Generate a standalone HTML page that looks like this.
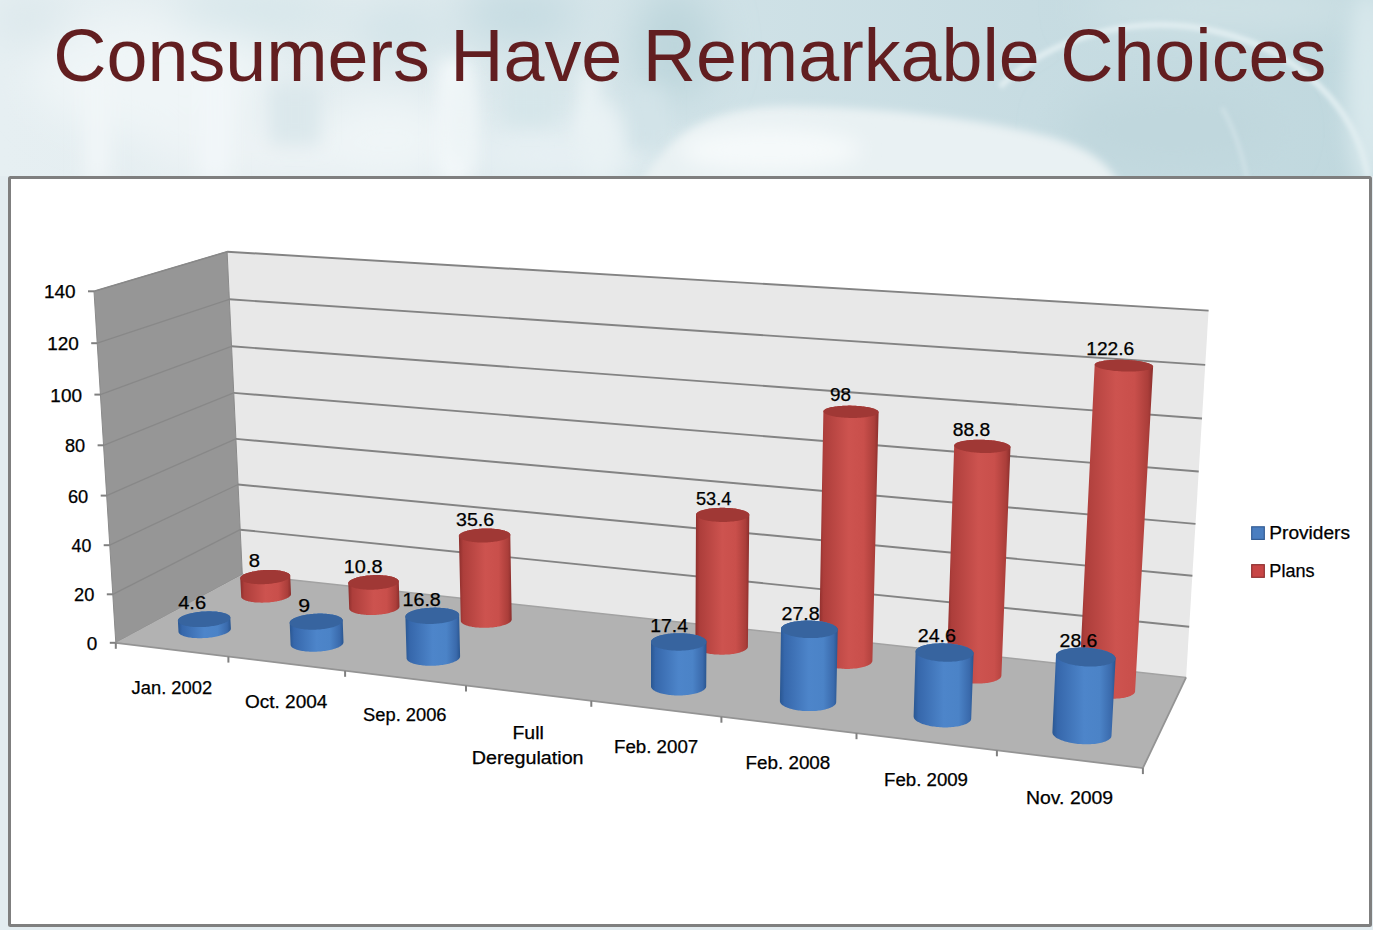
<!DOCTYPE html>
<html><head><meta charset="utf-8"><style>
html,body{margin:0;padding:0;width:1373px;height:930px;overflow:hidden;}
body{position:relative;font-family:"Liberation Sans",sans-serif;
background:#e6eff2;
}
svg{position:absolute;left:0;top:0;}
text{font-family:"Liberation Sans",sans-serif;}
</style></head><body>
<svg width="1373" height="930" viewBox="0 0 1373 930">
<defs><linearGradient id="g1" gradientUnits="userSpaceOnUse" x1="240.3" y1="0" x2="291.0" y2="0"><stop offset="0" stop-color="#8c2e2c"/><stop offset="0.08" stop-color="#ad3e3b"/><stop offset="0.5" stop-color="#cd534f"/><stop offset="0.75" stop-color="#c94f4b"/><stop offset="0.93" stop-color="#ab3e3a"/><stop offset="1" stop-color="#8a2e2c"/></linearGradient><linearGradient id="g2" gradientUnits="userSpaceOnUse" x1="348.3" y1="0" x2="399.5" y2="0"><stop offset="0" stop-color="#8c2e2c"/><stop offset="0.08" stop-color="#ad3e3b"/><stop offset="0.5" stop-color="#cd534f"/><stop offset="0.75" stop-color="#c94f4b"/><stop offset="0.93" stop-color="#ab3e3a"/><stop offset="1" stop-color="#8a2e2c"/></linearGradient><linearGradient id="g3" gradientUnits="userSpaceOnUse" x1="458.9" y1="0" x2="511.7" y2="0"><stop offset="0" stop-color="#8c2e2c"/><stop offset="0.08" stop-color="#ad3e3b"/><stop offset="0.5" stop-color="#cd534f"/><stop offset="0.75" stop-color="#c94f4b"/><stop offset="0.93" stop-color="#ab3e3a"/><stop offset="1" stop-color="#8a2e2c"/></linearGradient><linearGradient id="g4" gradientUnits="userSpaceOnUse" x1="695.4" y1="0" x2="749.3" y2="0"><stop offset="0" stop-color="#8c2e2c"/><stop offset="0.08" stop-color="#ad3e3b"/><stop offset="0.5" stop-color="#cd534f"/><stop offset="0.75" stop-color="#c94f4b"/><stop offset="0.93" stop-color="#ab3e3a"/><stop offset="1" stop-color="#8a2e2c"/></linearGradient><linearGradient id="g5" gradientUnits="userSpaceOnUse" x1="818.8" y1="0" x2="878.6" y2="0"><stop offset="0" stop-color="#8c2e2c"/><stop offset="0.08" stop-color="#ad3e3b"/><stop offset="0.5" stop-color="#cd534f"/><stop offset="0.75" stop-color="#c94f4b"/><stop offset="0.93" stop-color="#ab3e3a"/><stop offset="1" stop-color="#8a2e2c"/></linearGradient><linearGradient id="g6" gradientUnits="userSpaceOnUse" x1="946.6" y1="0" x2="1010.5" y2="0"><stop offset="0" stop-color="#8c2e2c"/><stop offset="0.08" stop-color="#ad3e3b"/><stop offset="0.5" stop-color="#cd534f"/><stop offset="0.75" stop-color="#c94f4b"/><stop offset="0.93" stop-color="#ab3e3a"/><stop offset="1" stop-color="#8a2e2c"/></linearGradient><linearGradient id="g7" gradientUnits="userSpaceOnUse" x1="1078.9" y1="0" x2="1153.1" y2="0"><stop offset="0" stop-color="#8c2e2c"/><stop offset="0.08" stop-color="#ad3e3b"/><stop offset="0.5" stop-color="#cd534f"/><stop offset="0.75" stop-color="#c94f4b"/><stop offset="0.93" stop-color="#ab3e3a"/><stop offset="1" stop-color="#8a2e2c"/></linearGradient><linearGradient id="g8" gradientUnits="userSpaceOnUse" x1="177.9" y1="0" x2="230.9" y2="0"><stop offset="0" stop-color="#2a5792"/><stop offset="0.08" stop-color="#3667ab"/><stop offset="0.5" stop-color="#4d85ca"/><stop offset="0.75" stop-color="#4b83c7"/><stop offset="0.93" stop-color="#3a6aac"/><stop offset="1" stop-color="#29558f"/></linearGradient><linearGradient id="g9" gradientUnits="userSpaceOnUse" x1="289.7" y1="0" x2="343.5" y2="0"><stop offset="0" stop-color="#2a5792"/><stop offset="0.08" stop-color="#3667ab"/><stop offset="0.5" stop-color="#4d85ca"/><stop offset="0.75" stop-color="#4b83c7"/><stop offset="0.93" stop-color="#3a6aac"/><stop offset="1" stop-color="#29558f"/></linearGradient><linearGradient id="g10" gradientUnits="userSpaceOnUse" x1="405.4" y1="0" x2="460.1" y2="0"><stop offset="0" stop-color="#2a5792"/><stop offset="0.08" stop-color="#3667ab"/><stop offset="0.5" stop-color="#4d85ca"/><stop offset="0.75" stop-color="#4b83c7"/><stop offset="0.93" stop-color="#3a6aac"/><stop offset="1" stop-color="#29558f"/></linearGradient><linearGradient id="g11" gradientUnits="userSpaceOnUse" x1="651.0" y1="0" x2="706.5" y2="0"><stop offset="0" stop-color="#2a5792"/><stop offset="0.08" stop-color="#3667ab"/><stop offset="0.5" stop-color="#4d85ca"/><stop offset="0.75" stop-color="#4b83c7"/><stop offset="0.93" stop-color="#3a6aac"/><stop offset="1" stop-color="#29558f"/></linearGradient><linearGradient id="g12" gradientUnits="userSpaceOnUse" x1="779.9" y1="0" x2="837.7" y2="0"><stop offset="0" stop-color="#2a5792"/><stop offset="0.08" stop-color="#3667ab"/><stop offset="0.5" stop-color="#4d85ca"/><stop offset="0.75" stop-color="#4b83c7"/><stop offset="0.93" stop-color="#3a6aac"/><stop offset="1" stop-color="#29558f"/></linearGradient><linearGradient id="g13" gradientUnits="userSpaceOnUse" x1="913.6" y1="0" x2="973.6" y2="0"><stop offset="0" stop-color="#2a5792"/><stop offset="0.08" stop-color="#3667ab"/><stop offset="0.5" stop-color="#4d85ca"/><stop offset="0.75" stop-color="#4b83c7"/><stop offset="0.93" stop-color="#3a6aac"/><stop offset="1" stop-color="#29558f"/></linearGradient><linearGradient id="g14" gradientUnits="userSpaceOnUse" x1="1052.4" y1="0" x2="1115.6" y2="0"><stop offset="0" stop-color="#2a5792"/><stop offset="0.08" stop-color="#3667ab"/><stop offset="0.5" stop-color="#4d85ca"/><stop offset="0.75" stop-color="#4b83c7"/><stop offset="0.93" stop-color="#3a6aac"/><stop offset="1" stop-color="#29558f"/></linearGradient></defs>
<defs>
<linearGradient id="bgx" x1="0" y1="0" x2="1373" y2="0" gradientUnits="userSpaceOnUse">
<stop offset="0" stop-color="#e6eff2"/><stop offset="0.27" stop-color="#e2ecef"/><stop offset="0.38" stop-color="#d9e7eb"/>
<stop offset="0.5" stop-color="#d0e2e7"/><stop offset="0.75" stop-color="#c7dce2"/><stop offset="1" stop-color="#c0d8de"/>
</linearGradient>
<filter id="bl20" x="-50%" y="-50%" width="200%" height="200%"><feGaussianBlur stdDeviation="20"/></filter>
<filter id="bl10" x="-50%" y="-50%" width="200%" height="200%"><feGaussianBlur stdDeviation="10"/></filter>
<filter id="bl8s" x="-50%" y="-50%" width="200%" height="200%"><feGaussianBlur stdDeviation="9"/></filter>
<filter id="bl4" x="-50%" y="-50%" width="200%" height="200%"><feGaussianBlur stdDeviation="4"/></filter>
<filter id="bl2" x="-50%" y="-50%" width="200%" height="200%"><feGaussianBlur stdDeviation="2"/></filter>
</defs>
<rect x="0" y="0" width="1373" height="930" fill="url(#bgx)"/>
<g filter="url(#bl20)">
<ellipse cx="150" cy="75" rx="120" ry="60" fill="#eff5f7"/>
<ellipse cx="300" cy="150" rx="160" ry="30" fill="#edf3f5"/>
<ellipse cx="390" cy="140" rx="70" ry="45" fill="#eff5f7"/>
<ellipse cx="520" cy="15" rx="60" ry="30" fill="#c6dce2"/>
<ellipse cx="260" cy="12" rx="90" ry="22" fill="#d6e6ea"/>
<ellipse cx="400" cy="30" rx="50" ry="28" fill="#d3e4e9"/>
<ellipse cx="30" cy="20" rx="40" ry="25" fill="#dce8ec"/>
<ellipse cx="675" cy="45" rx="40" ry="55" fill="#bdd6dc"/>
<ellipse cx="1170" cy="130" rx="110" ry="40" fill="#c0d7dd"/>
<ellipse cx="560" cy="155" rx="100" ry="30" fill="#e8f1f4"/>
<ellipse cx="1230" cy="8" rx="150" ry="22" fill="#d0e2e6"/>
</g>
<g filter="url(#bl8s)">
<rect x="440" y="60" width="30" height="120" fill="#f5f9fb"/>
<rect x="200" y="70" width="30" height="110" fill="#f2f7f9"/>
<rect x="85" y="70" width="25" height="110" fill="#f1f6f8"/>
<rect x="580" y="70" width="18" height="70" fill="#eef5f7"/>
<rect x="270" y="85" width="50" height="60" fill="#dbe8ec"/>
<rect x="505" y="80" width="50" height="45" fill="#d6e6ea"/>
<rect x="625" y="90" width="40" height="60" fill="#d2e3e8"/>
</g>
<g filter="url(#bl4)">
<path d="M640,185 C670,128 720,106 790,106 C900,108 1000,122 1060,140 C1090,150 1110,165 1120,185 Z" fill="#e9f1f3"/>
</g>
<g filter="url(#bl10)">
<ellipse cx="770" cy="150" rx="90" ry="22" fill="#f5f9fa"/>
<ellipse cx="600" cy="140" rx="22" ry="40" fill="#e9f2f4"/>
<ellipse cx="460" cy="120" rx="16" ry="50" fill="#edf4f6"/>
</g>
<g filter="url(#bl10)"><ellipse cx="1368" cy="90" rx="22" ry="100" fill="#d8e8ec"/></g>
<g filter="url(#bl2)" fill="none" stroke="#e0edf0">
<path d="M1000,86.6 A210,175 0 0,1 1368,176" stroke-width="6"/>
<path d="M1222,108 Q1238,135 1247,178" stroke-width="4" stroke="#cfe1e6"/>
</g>
<rect x="0" y="176" width="1373" height="754" fill="#e3ecf0"/>

<text x="53.32" y="81.0" font-size="75" textLength="1272.97" lengthAdjust="spacingAndGlyphs" fill="#621e20">Consumers Have Remarkable Choices</text>
<rect x="9.5" y="177.5" width="1361" height="748" fill="#ffffff" stroke="#7f7f7f" stroke-width="3" rx="1"/>
<polygon points="242.3,574.4 227.1,251.7 1208.6,310.6 1186.1,677.4" fill="#e8e8e8"/><polygon points="115.8,642.8 94.0,291.3 227.1,251.7 242.3,574.4" fill="#969696" stroke="#8a8a8a" stroke-width="1"/><polygon points="115.8,642.8 1142.9,768.1 1186.1,677.4 242.3,574.4" fill="#b2b2b2"/><line x1="242.3" y1="574.4" x2="1186.1" y2="677.4" stroke="#a2a2a2" stroke-width="1.5"/><line x1="109.8" y1="642.8" x2="115.8" y2="642.8" stroke="#808080" stroke-width="2"/><line x1="240.2" y1="529.7" x2="1189.2" y2="626.8" stroke="#838383" stroke-width="1.9"/><line x1="112.8" y1="594.3" x2="240.2" y2="529.7" stroke="#888" stroke-width="1.3"/><line x1="106.8" y1="594.3" x2="112.8" y2="594.3" stroke="#808080" stroke-width="2"/><line x1="238.0" y1="484.5" x2="1192.4" y2="575.7" stroke="#838383" stroke-width="1.9"/><line x1="109.7" y1="545.2" x2="238.0" y2="484.5" stroke="#888" stroke-width="1.3"/><line x1="103.7" y1="545.2" x2="109.7" y2="545.2" stroke="#808080" stroke-width="2"/><line x1="235.9" y1="438.9" x2="1195.5" y2="523.9" stroke="#838383" stroke-width="1.9"/><line x1="106.7" y1="495.6" x2="235.9" y2="438.9" stroke="#888" stroke-width="1.3"/><line x1="100.7" y1="495.6" x2="106.7" y2="495.6" stroke="#808080" stroke-width="2"/><line x1="233.7" y1="392.9" x2="1198.7" y2="471.5" stroke="#838383" stroke-width="1.9"/><line x1="103.6" y1="445.3" x2="233.7" y2="392.9" stroke="#888" stroke-width="1.3"/><line x1="97.6" y1="445.3" x2="103.6" y2="445.3" stroke="#808080" stroke-width="2"/><line x1="231.5" y1="346.3" x2="1202.0" y2="418.5" stroke="#838383" stroke-width="1.9"/><line x1="100.4" y1="394.6" x2="231.5" y2="346.3" stroke="#888" stroke-width="1.3"/><line x1="94.4" y1="394.6" x2="100.4" y2="394.6" stroke="#808080" stroke-width="2"/><line x1="229.3" y1="299.3" x2="1205.2" y2="364.9" stroke="#838383" stroke-width="1.9"/><line x1="97.2" y1="343.2" x2="229.3" y2="299.3" stroke="#888" stroke-width="1.3"/><line x1="91.2" y1="343.2" x2="97.2" y2="343.2" stroke="#808080" stroke-width="2"/><line x1="227.1" y1="251.7" x2="1208.6" y2="310.6" stroke="#838383" stroke-width="1.9"/><line x1="88.0" y1="291.3" x2="94.0" y2="291.3" stroke="#808080" stroke-width="2"/><line x1="94.0" y1="291.3" x2="227.1" y2="251.7" stroke="#888" stroke-width="1.5"/><polyline points="115.8,642.8 1142.9,768.1 1186.1,677.4" fill="none" stroke="#949494" stroke-width="1.8"/><line x1="115.8" y1="642.8" x2="115.8" y2="648.8" stroke="#808080" stroke-width="2"/><line x1="228.4" y1="656.6" x2="228.4" y2="662.6" stroke="#808080" stroke-width="2"/><line x1="345.1" y1="670.8" x2="345.1" y2="676.8" stroke="#808080" stroke-width="2"/><line x1="466.0" y1="685.5" x2="466.0" y2="691.5" stroke="#808080" stroke-width="2"/><line x1="591.3" y1="700.8" x2="591.3" y2="706.8" stroke="#808080" stroke-width="2"/><line x1="721.4" y1="716.7" x2="721.4" y2="722.7" stroke="#808080" stroke-width="2"/><line x1="856.5" y1="733.2" x2="856.5" y2="739.2" stroke="#808080" stroke-width="2"/><line x1="996.9" y1="750.3" x2="996.9" y2="756.3" stroke="#808080" stroke-width="2"/><line x1="1142.9" y1="768.1" x2="1142.9" y2="774.1" stroke="#808080" stroke-width="2"/><polygon points="240.3,578.3 240.3,577.9 240.4,577.6 240.6,577.2 240.8,576.8 241.1,576.5 241.5,576.1 241.9,575.7 242.4,575.4 243.0,575.0 243.6,574.6 244.3,574.3 245.0,574.0 245.8,573.6 246.6,573.3 247.5,573.0 248.4,572.7 249.4,572.4 250.4,572.1 251.5,571.9 252.6,571.6 253.8,571.4 254.9,571.2 256.1,571.0 257.3,570.8 258.6,570.6 259.8,570.5 261.1,570.3 262.4,570.2 263.7,570.1 264.9,570.1 266.2,570.0 267.5,570.0 268.8,569.9 270.1,569.9 271.4,570.0 272.6,570.0 273.8,570.0 275.0,570.1 276.2,570.2 277.4,570.3 278.5,570.5 279.6,570.6 280.6,570.8 281.6,571.0 282.6,571.2 283.5,571.4 284.3,571.6 285.1,571.9 285.9,572.1 286.6,572.4 287.2,572.7 287.8,573.0 288.4,573.3 288.8,573.6 289.2,573.9 289.6,574.3 289.8,574.6 290.0,575.0 290.1,575.3 290.2,575.7 291.0,594.0 291.0,594.3 290.9,594.7 290.8,595.1 290.6,595.5 290.3,595.9 289.9,596.2 289.5,596.6 289.1,597.0 288.5,597.4 287.9,597.7 287.3,598.1 286.6,598.5 285.8,598.8 285.0,599.1 284.1,599.5 283.1,599.8 282.2,600.1 281.1,600.4 280.1,600.6 279.0,600.9 277.8,601.1 276.7,601.4 275.5,601.6 274.2,601.8 273.0,602.0 271.7,602.1 270.4,602.2 269.1,602.4 267.8,602.5 266.5,602.5 265.2,602.6 263.9,602.6 262.5,602.7 261.2,602.7 260.0,602.6 258.7,602.6 257.4,602.5 256.2,602.5 255.0,602.4 253.9,602.2 252.7,602.1 251.6,602.0 250.6,601.8 249.6,601.6 248.6,601.4 247.7,601.1 246.8,600.9 246.0,600.6 245.3,600.4 244.6,600.1 244.0,599.8 243.4,599.5 242.9,599.1 242.4,598.8 242.1,598.5 241.7,598.1 241.5,597.8 241.3,597.4 241.2,597.0 241.2,596.6" fill="url(#g1)"/><polygon points="287.2,579.4 287.8,579.0 288.3,578.7 288.8,578.3 289.2,577.9 289.5,577.6 289.8,577.2 290.0,576.8 290.1,576.4 290.2,576.1 290.2,575.7 290.2,575.3 290.0,575.0 289.8,574.6 289.6,574.3 289.2,573.9 288.8,573.6 288.4,573.3 287.8,573.0 287.2,572.7 286.6,572.4 285.9,572.1 285.1,571.9 284.3,571.6 283.5,571.4 282.6,571.2 281.6,571.0 280.6,570.8 279.6,570.6 278.5,570.5 277.4,570.3 276.2,570.2 275.0,570.1 273.8,570.1 272.6,570.0 271.4,570.0 270.1,569.9 268.8,569.9 267.5,570.0 266.2,570.0 265.0,570.1 263.7,570.1 262.4,570.2 261.1,570.3 259.8,570.5 258.6,570.6 257.3,570.8 256.1,571.0 254.9,571.2 253.7,571.4 252.6,571.6 251.5,571.9 250.4,572.1 249.4,572.4 248.4,572.7 247.5,573.0 246.6,573.3 245.8,573.6 245.0,573.9 244.3,574.3 243.6,574.6 243.0,575.0 242.4,575.3 241.9,575.7 241.5,576.1 241.1,576.5 240.8,576.8 240.6,577.2 240.4,577.6 240.3,577.9 240.3,578.3 240.3,578.7 240.4,579.0 240.6,579.4 240.9,579.8 241.2,580.1 241.6,580.4 242.0,580.8 242.5,581.1 243.1,581.4 243.7,581.7 244.4,582.0 245.2,582.2 246.0,582.5 246.8,582.7 247.8,582.9 248.7,583.1 249.7,583.3 250.8,583.5 251.9,583.7 253.0,583.8 254.2,583.9 255.4,584.0 256.6,584.1 257.9,584.2 259.1,584.2 260.4,584.2 261.7,584.2 263.0,584.2 264.3,584.2 265.7,584.1 267.0,584.0 268.3,583.9 269.6,583.8 270.9,583.7 272.2,583.5 273.4,583.3 274.7,583.1 275.9,582.9 277.0,582.7 278.2,582.5 279.3,582.2 280.4,582.0 281.4,581.7 282.4,581.4 283.3,581.1 284.2,580.8 285.0,580.4 285.8,580.1 286.5,579.7" fill="#a03835"/><polygon points="348.3,583.3 348.3,582.9 348.4,582.5 348.6,582.1 348.9,581.8 349.2,581.4 349.6,581.0 350.0,580.6 350.5,580.3 351.1,579.9 351.7,579.5 352.4,579.2 353.2,578.9 354.0,578.5 354.8,578.2 355.8,577.9 356.7,577.6 357.7,577.3 358.8,577.1 359.8,576.8 360.9,576.6 362.1,576.4 363.3,576.1 364.5,576.0 365.7,575.8 367.0,575.6 368.3,575.5 369.6,575.4 370.8,575.3 372.1,575.2 373.4,575.1 374.8,575.1 376.1,575.1 377.4,575.1 378.6,575.1 379.9,575.1 381.2,575.2 382.4,575.3 383.6,575.4 384.8,575.5 386.0,575.6 387.1,575.8 388.2,576.0 389.2,576.1 390.2,576.4 391.2,576.6 392.1,576.8 393.0,577.1 393.8,577.3 394.5,577.6 395.2,577.9 395.9,578.2 396.4,578.5 397.0,578.9 397.4,579.2 397.8,579.5 398.1,579.9 398.4,580.2 398.6,580.6 398.7,581.0 398.8,581.4 399.5,606.4 399.5,606.8 399.4,607.2 399.2,607.6 399.0,608.0 398.7,608.4 398.4,608.8 397.9,609.2 397.5,609.6 396.9,609.9 396.3,610.3 395.6,610.7 394.9,611.0 394.1,611.4 393.2,611.7 392.4,612.0 391.4,612.3 390.4,612.6 389.4,612.9 388.3,613.2 387.1,613.5 386.0,613.7 384.8,613.9 383.6,614.1 382.3,614.3 381.1,614.5 379.8,614.6 378.4,614.7 377.1,614.8 375.8,614.9 374.5,615.0 373.1,615.0 371.8,615.0 370.5,615.0 369.2,615.0 367.9,615.0 366.6,614.9 365.4,614.8 364.1,614.7 362.9,614.6 361.8,614.5 360.6,614.3 359.5,614.1 358.5,613.9 357.5,613.7 356.5,613.5 355.6,613.2 354.7,612.9 353.9,612.6 353.2,612.4 352.5,612.0 351.9,611.7 351.3,611.4 350.8,611.0 350.4,610.7 350.0,610.3 349.7,610.0 349.5,609.6 349.3,609.2 349.2,608.8 349.2,608.4" fill="url(#g2)"/><polygon points="396.2,584.8 396.7,584.4 397.2,584.0 397.6,583.7 398.0,583.3 398.3,582.9 398.5,582.5 398.7,582.1 398.7,581.8 398.8,581.4 398.7,581.0 398.6,580.6 398.4,580.3 398.1,579.9 397.8,579.5 397.4,579.2 397.0,578.9 396.5,578.5 395.9,578.2 395.2,577.9 394.5,577.6 393.8,577.3 393.0,577.1 392.1,576.8 391.2,576.6 390.2,576.3 389.2,576.1 388.2,576.0 387.1,575.8 386.0,575.6 384.8,575.5 383.6,575.4 382.4,575.3 381.2,575.2 379.9,575.1 378.7,575.1 377.4,575.1 376.1,575.1 374.8,575.1 373.5,575.1 372.1,575.2 370.8,575.3 369.5,575.4 368.3,575.5 367.0,575.6 365.7,575.8 364.5,576.0 363.3,576.1 362.1,576.4 360.9,576.6 359.8,576.8 358.7,577.1 357.7,577.3 356.7,577.6 355.7,577.9 354.8,578.2 354.0,578.5 353.2,578.9 352.4,579.2 351.7,579.5 351.1,579.9 350.5,580.3 350.0,580.6 349.6,581.0 349.2,581.4 348.9,581.8 348.6,582.1 348.4,582.5 348.3,582.9 348.3,583.3 348.3,583.7 348.4,584.0 348.6,584.4 348.8,584.8 349.1,585.1 349.5,585.5 349.9,585.8 350.4,586.2 351.0,586.5 351.6,586.8 352.3,587.1 353.1,587.4 353.9,587.7 354.7,587.9 355.6,588.2 356.6,588.4 357.6,588.6 358.7,588.8 359.8,589.0 360.9,589.2 362.1,589.3 363.3,589.4 364.5,589.5 365.8,589.6 367.1,589.7 368.4,589.7 369.7,589.7 371.0,589.7 372.3,589.7 373.7,589.7 375.0,589.6 376.3,589.5 377.6,589.4 379.0,589.3 380.3,589.1 381.5,589.0 382.8,588.8 384.0,588.6 385.2,588.4 386.4,588.2 387.5,587.9 388.6,587.7 389.6,587.4 390.6,587.1 391.6,586.8 392.5,586.5 393.3,586.2 394.1,585.8 394.9,585.5 395.6,585.1" fill="#a03835"/><polygon points="458.9,536.0 458.9,535.6 459.0,535.2 459.2,534.9 459.5,534.5 459.8,534.1 460.2,533.8 460.7,533.4 461.2,533.1 461.8,532.8 462.5,532.4 463.2,532.1 464.0,531.8 464.8,531.5 465.7,531.2 466.6,530.9 467.6,530.6 468.6,530.4 469.7,530.1 470.8,529.9 471.9,529.7 473.1,529.5 474.3,529.3 475.6,529.1 476.8,529.0 478.1,528.9 479.4,528.8 480.7,528.7 482.1,528.6 483.4,528.5 484.7,528.5 486.0,528.5 487.4,528.5 488.7,528.5 490.0,528.5 491.3,528.6 492.6,528.7 493.8,528.8 495.1,528.9 496.3,529.0 497.4,529.1 498.6,529.3 499.7,529.5 500.7,529.7 501.8,529.9 502.7,530.1 503.6,530.4 504.5,530.6 505.3,530.9 506.1,531.2 506.8,531.5 507.4,531.8 508.0,532.1 508.6,532.4 509.0,532.7 509.4,533.1 509.7,533.4 510.0,533.8 510.1,534.1 510.3,534.5 510.3,534.9 511.7,619.3 511.7,619.7 511.6,620.1 511.4,620.5 511.2,621.0 510.9,621.4 510.5,621.8 510.1,622.2 509.6,622.5 509.0,622.9 508.4,623.3 507.7,623.7 506.9,624.0 506.1,624.4 505.2,624.7 504.3,625.0 503.3,625.3 502.3,625.6 501.2,625.9 500.1,626.2 499.0,626.4 497.8,626.6 496.6,626.9 495.4,627.0 494.1,627.2 492.8,627.4 491.5,627.5 490.2,627.6 488.8,627.7 487.5,627.8 486.1,627.8 484.8,627.8 483.5,627.8 482.1,627.8 480.8,627.8 479.5,627.7 478.2,627.6 476.9,627.5 475.7,627.4 474.5,627.2 473.3,627.0 472.2,626.9 471.1,626.6 470.0,626.4 469.0,626.2 468.0,625.9 467.1,625.6 466.2,625.4 465.4,625.0 464.7,624.7 464.0,624.4 463.4,624.0 462.8,623.7 462.3,623.3 461.9,622.9 461.5,622.5 461.2,622.2 461.0,621.8 460.9,621.4 460.8,621.0 460.8,620.5" fill="url(#g3)"/><polygon points="508.1,537.8 508.6,537.4 509.1,537.0 509.5,536.7 509.8,536.3 510.0,536.0 510.2,535.6 510.3,535.2 510.3,534.9 510.3,534.5 510.1,534.1 510.0,533.8 509.7,533.4 509.4,533.1 509.0,532.7 508.5,532.4 508.0,532.1 507.4,531.8 506.8,531.5 506.1,531.2 505.3,530.9 504.5,530.6 503.6,530.4 502.7,530.1 501.8,529.9 500.7,529.7 499.7,529.5 498.6,529.3 497.4,529.1 496.3,529.0 495.1,528.9 493.8,528.8 492.6,528.7 491.3,528.6 490.0,528.5 488.7,528.5 487.4,528.5 486.0,528.5 484.7,528.5 483.4,528.5 482.1,528.6 480.7,528.7 479.4,528.8 478.1,528.9 476.8,529.0 475.6,529.1 474.3,529.3 473.1,529.5 471.9,529.7 470.8,529.9 469.7,530.1 468.6,530.4 467.6,530.6 466.6,530.9 465.7,531.2 464.8,531.5 464.0,531.8 463.2,532.1 462.5,532.4 461.8,532.7 461.2,533.1 460.7,533.4 460.2,533.8 459.8,534.1 459.5,534.5 459.2,534.9 459.0,535.2 458.9,535.6 458.9,536.0 458.9,536.3 459.0,536.7 459.1,537.1 459.4,537.4 459.6,537.8 460.0,538.1 460.4,538.4 460.9,538.8 461.5,539.1 462.1,539.4 462.8,539.7 463.6,540.0 464.4,540.3 465.3,540.5 466.2,540.8 467.2,541.0 468.2,541.2 469.3,541.4 470.4,541.6 471.5,541.8 472.7,542.0 473.9,542.1 475.2,542.2 476.5,542.3 477.8,542.4 479.1,542.4 480.4,542.5 481.8,542.5 483.1,542.5 484.5,542.5 485.9,542.4 487.2,542.4 488.6,542.3 489.9,542.2 491.2,542.1 492.5,541.9 493.8,541.8 495.1,541.6 496.3,541.4 497.5,541.2 498.6,541.0 499.7,540.8 500.8,540.5 501.9,540.3 502.8,540.0 503.8,539.7 504.6,539.4 505.5,539.1 506.2,538.8 506.9,538.4 507.6,538.1" fill="#a03835"/><polygon points="695.4,646.1 696.0,514.6 696.0,514.2 696.2,513.9 696.4,513.5 696.7,513.2 697.0,512.8 697.5,512.5 698.0,512.1 698.5,511.8 699.1,511.4 699.8,511.1 700.6,510.8 701.4,510.5 702.3,510.2 703.2,510.0 704.2,509.7 705.2,509.5 706.3,509.2 707.4,509.0 708.5,508.8 709.7,508.6 711.0,508.5 712.2,508.3 713.5,508.2 714.8,508.1 716.1,508.0 717.5,507.9 718.9,507.9 720.2,507.8 721.6,507.8 723.0,507.8 724.4,507.8 725.8,507.9 727.1,507.9 728.5,508.0 729.8,508.1 731.1,508.2 732.4,508.3 733.7,508.5 735.0,508.6 736.2,508.8 737.3,509.0 738.5,509.2 739.6,509.5 740.6,509.7 741.6,510.0 742.6,510.2 743.5,510.5 744.3,510.8 745.1,511.1 745.8,511.4 746.5,511.8 747.0,512.1 747.6,512.4 748.0,512.8 748.4,513.1 748.7,513.5 749.0,513.9 749.2,514.2 749.3,514.6 749.3,515.0 747.9,646.5 747.9,646.9 747.8,647.4 747.6,647.8 747.3,648.2 747.0,648.7 746.6,649.1 746.1,649.5 745.6,649.9 745.0,650.3 744.3,650.7 743.6,651.0 742.8,651.4 741.9,651.7 741.0,652.1 740.1,652.4 739.1,652.7 738.0,653.0 736.9,653.2 735.7,653.5 734.5,653.7 733.3,653.9 732.1,654.1 730.8,654.2 729.5,654.4 728.1,654.5 726.8,654.6 725.4,654.6 724.0,654.7 722.6,654.7 721.2,654.7 719.9,654.7 718.5,654.6 717.1,654.6 715.7,654.5 714.4,654.4 713.1,654.2 711.8,654.1 710.5,653.9 709.2,653.7 708.0,653.5 706.9,653.2 705.7,653.0 704.7,652.7 703.6,652.4 702.6,652.1 701.7,651.8 700.8,651.4 700.0,651.0 699.3,650.7 698.6,650.3 697.9,649.9 697.4,649.5 696.9,649.1 696.5,648.7 696.1,648.2 695.8,647.8 695.6,647.4 695.4,647.0 695.4,646.5" fill="url(#g4)"/><polygon points="748.0,517.2 748.4,516.8 748.7,516.4 749.0,516.1 749.1,515.7 749.3,515.3 749.3,515.0 749.3,514.6 749.2,514.2 749.0,513.9 748.7,513.5 748.4,513.1 748.0,512.8 747.6,512.4 747.0,512.1 746.5,511.8 745.8,511.4 745.1,511.1 744.3,510.8 743.5,510.5 742.6,510.2 741.6,510.0 740.6,509.7 739.6,509.5 738.5,509.2 737.3,509.0 736.2,508.8 735.0,508.6 733.7,508.5 732.4,508.3 731.1,508.2 729.8,508.1 728.5,508.0 727.1,507.9 725.8,507.9 724.4,507.8 723.0,507.8 721.6,507.8 720.2,507.8 718.9,507.9 717.5,507.9 716.2,508.0 714.8,508.1 713.5,508.2 712.2,508.3 711.0,508.5 709.7,508.6 708.5,508.8 707.4,509.0 706.3,509.2 705.2,509.5 704.2,509.7 703.2,510.0 702.3,510.2 701.4,510.5 700.6,510.8 699.8,511.1 699.2,511.4 698.5,511.8 698.0,512.1 697.5,512.5 697.0,512.8 696.7,513.2 696.4,513.5 696.2,513.9 696.0,514.2 696.0,514.6 696.0,515.0 696.0,515.4 696.2,515.7 696.4,516.1 696.7,516.5 697.1,516.8 697.5,517.2 698.0,517.5 698.6,517.9 699.2,518.2 699.9,518.5 700.7,518.8 701.5,519.1 702.4,519.4 703.4,519.7 704.4,520.0 705.4,520.2 706.5,520.5 707.7,520.7 708.8,520.9 710.1,521.1 711.3,521.2 712.6,521.4 713.9,521.5 715.3,521.6 716.6,521.7 718.0,521.8 719.4,521.9 720.8,521.9 722.2,521.9 723.7,521.9 725.1,521.9 726.5,521.9 727.9,521.8 729.2,521.7 730.6,521.6 731.9,521.5 733.2,521.4 734.5,521.2 735.8,521.1 737.0,520.9 738.1,520.7 739.3,520.4 740.3,520.2 741.4,520.0 742.3,519.7 743.3,519.4 744.1,519.1 744.9,518.8 745.7,518.5 746.3,518.2 746.9,517.8 747.5,517.5" fill="#a03835"/><polygon points="818.8,659.5 823.4,411.2 823.5,410.9 823.7,410.6 823.9,410.3 824.2,410.0 824.6,409.7 825.0,409.4 825.5,409.1 826.1,408.8 826.8,408.5 827.5,408.3 828.2,408.0 829.1,407.8 830.0,407.5 830.9,407.3 832.0,407.1 833.0,406.9 834.1,406.7 835.3,406.5 836.5,406.4 837.7,406.2 839.0,406.1 840.3,406.0 841.6,405.9 843.0,405.8 844.3,405.7 845.7,405.7 847.1,405.7 848.5,405.6 850.0,405.6 851.4,405.6 852.8,405.7 854.2,405.7 855.7,405.8 857.1,405.9 858.4,406.0 859.8,406.1 861.1,406.2 862.5,406.4 863.8,406.5 865.0,406.7 866.2,406.9 867.4,407.1 868.5,407.3 869.6,407.5 870.6,407.8 871.6,408.0 872.5,408.2 873.4,408.5 874.2,408.8 874.9,409.1 875.6,409.4 876.2,409.7 876.8,410.0 877.2,410.3 877.6,410.6 878.0,410.9 878.2,411.2 878.4,411.6 878.5,411.9 878.6,412.2 872.4,660.8 872.3,661.3 872.2,661.7 872.0,662.2 871.7,662.6 871.4,663.0 871.0,663.5 870.5,663.9 870.0,664.3 869.3,664.7 868.6,665.1 867.9,665.5 867.1,665.8 866.2,666.1 865.3,666.5 864.3,666.8 863.3,667.1 862.2,667.3 861.1,667.6 859.9,667.8 858.7,668.0 857.4,668.2 856.1,668.4 854.8,668.5 853.5,668.6 852.1,668.7 850.7,668.8 849.3,668.9 847.9,668.9 846.5,668.9 845.1,668.9 843.7,668.8 842.2,668.7 840.9,668.6 839.5,668.5 838.1,668.4 836.7,668.2 835.4,668.0 834.1,667.8 832.9,667.6 831.6,667.3 830.4,667.1 829.3,666.8 828.2,666.5 827.1,666.1 826.1,665.8 825.2,665.5 824.3,665.1 823.5,664.7 822.7,664.3 822.0,663.9 821.4,663.5 820.8,663.1 820.3,662.6 819.9,662.2 819.5,661.7 819.2,661.3 819.0,660.8 818.9,660.4 818.8,659.9" fill="url(#g5)"/><polygon points="877.6,413.8 877.9,413.5 878.2,413.2 878.4,412.8 878.5,412.5 878.6,412.2 878.5,411.9 878.4,411.6 878.2,411.2 878.0,410.9 877.7,410.6 877.3,410.3 876.8,410.0 876.2,409.7 875.6,409.4 874.9,409.1 874.2,408.8 873.4,408.5 872.5,408.3 871.6,408.0 870.6,407.7 869.6,407.5 868.5,407.3 867.4,407.1 866.2,406.9 865.0,406.7 863.7,406.5 862.5,406.4 861.1,406.2 859.8,406.1 858.4,406.0 857.1,405.9 855.7,405.8 854.2,405.7 852.8,405.7 851.4,405.7 850.0,405.6 848.5,405.6 847.1,405.7 845.7,405.7 844.3,405.7 842.9,405.8 841.6,405.9 840.3,406.0 839.0,406.1 837.7,406.2 836.5,406.4 835.3,406.5 834.1,406.7 833.0,406.9 831.9,407.1 830.9,407.3 830.0,407.5 829.1,407.8 828.2,408.0 827.5,408.3 826.8,408.5 826.1,408.8 825.5,409.1 825.0,409.4 824.6,409.7 824.2,410.0 823.9,410.3 823.7,410.6 823.5,410.9 823.4,411.3 823.4,411.6 823.5,411.9 823.7,412.2 823.9,412.5 824.2,412.9 824.6,413.2 825.0,413.5 825.5,413.8 826.1,414.1 826.8,414.4 827.5,414.7 828.3,415.0 829.2,415.2 830.1,415.5 831.0,415.8 832.1,416.0 833.2,416.2 834.3,416.5 835.5,416.7 836.7,416.9 838.0,417.0 839.3,417.2 840.6,417.3 842.0,417.5 843.4,417.6 844.8,417.7 846.2,417.8 847.6,417.8 849.1,417.9 850.5,417.9 852.0,418.0 853.5,417.9 854.9,417.9 856.4,417.9 857.8,417.8 859.2,417.8 860.6,417.7 861.9,417.6 863.2,417.5 864.5,417.3 865.8,417.2 867.0,417.0 868.1,416.8 869.3,416.6 870.3,416.4 871.3,416.2 872.3,416.0 873.2,415.7 874.0,415.5 874.8,415.2 875.5,415.0 876.1,414.7 876.7,414.4 877.2,414.1" fill="#a03835"/><polygon points="946.6,673.4 954.2,445.4 954.3,445.1 954.4,444.7 954.7,444.4 955.0,444.1 955.4,443.7 955.8,443.4 956.3,443.1 956.9,442.8 957.6,442.5 958.3,442.3 959.1,442.0 960.0,441.7 960.9,441.5 961.9,441.3 962.9,441.1 964.0,440.9 965.1,440.7 966.3,440.5 967.5,440.3 968.8,440.2 970.0,440.1 971.4,440.0 972.7,439.9 974.1,439.8 975.5,439.8 976.9,439.7 978.4,439.7 979.8,439.7 981.3,439.7 982.7,439.8 984.2,439.8 985.6,439.9 987.1,440.0 988.5,440.1 989.9,440.2 991.3,440.3 992.7,440.5 994.0,440.6 995.3,440.8 996.6,441.0 997.9,441.2 999.0,441.5 1000.2,441.7 1001.3,442.0 1002.4,442.2 1003.4,442.5 1004.3,442.8 1005.2,443.1 1006.0,443.4 1006.8,443.7 1007.5,444.0 1008.1,444.4 1008.6,444.7 1009.1,445.0 1009.5,445.4 1009.9,445.7 1010.1,446.1 1010.3,446.4 1010.4,446.8 1010.5,447.1 1001.4,675.7 1001.3,676.2 1001.2,676.6 1001.0,677.1 1000.7,677.5 1000.4,678.0 999.9,678.4 999.4,678.8 998.9,679.2 998.2,679.6 997.5,680.0 996.8,680.4 995.9,680.7 995.0,681.1 994.1,681.4 993.1,681.7 992.0,682.0 990.9,682.2 989.8,682.5 988.5,682.7 987.3,682.9 986.0,683.0 984.7,683.2 983.4,683.3 982.0,683.4 980.6,683.5 979.2,683.5 977.7,683.6 976.3,683.6 974.8,683.5 973.4,683.5 971.9,683.4 970.5,683.3 969.1,683.2 967.6,683.0 966.2,682.9 964.9,682.7 963.5,682.5 962.2,682.2 960.9,682.0 959.6,681.7 958.4,681.4 957.3,681.1 956.1,680.7 955.1,680.4 954.0,680.0 953.1,679.6 952.2,679.2 951.3,678.8 950.5,678.4 949.8,678.0 949.2,677.5 948.6,677.1 948.1,676.6 947.6,676.2 947.3,675.7 947.0,675.2 946.8,674.8 946.6,674.3 946.6,673.8" fill="url(#g6)"/><polygon points="1009.8,448.5 1010.1,448.1 1010.3,447.8 1010.4,447.5 1010.5,447.1 1010.4,446.8 1010.3,446.4 1010.1,446.1 1009.9,445.7 1009.5,445.4 1009.1,445.0 1008.6,444.7 1008.1,444.4 1007.5,444.0 1006.8,443.7 1006.0,443.4 1005.2,443.1 1004.3,442.8 1003.4,442.5 1002.4,442.2 1001.3,442.0 1000.2,441.7 999.0,441.5 997.8,441.2 996.6,441.0 995.3,440.8 994.0,440.6 992.7,440.5 991.3,440.3 989.9,440.2 988.5,440.1 987.1,440.0 985.6,439.9 984.2,439.8 982.7,439.8 981.3,439.7 979.8,439.7 978.4,439.7 976.9,439.7 975.5,439.8 974.1,439.8 972.7,439.9 971.4,440.0 970.0,440.1 968.8,440.2 967.5,440.3 966.3,440.5 965.1,440.7 964.0,440.8 962.9,441.0 961.9,441.3 960.9,441.5 960.0,441.7 959.1,442.0 958.3,442.3 957.6,442.5 956.9,442.8 956.3,443.1 955.8,443.4 955.4,443.7 955.0,444.1 954.7,444.4 954.4,444.7 954.3,445.1 954.2,445.4 954.2,445.8 954.3,446.1 954.4,446.4 954.7,446.8 955.0,447.1 955.4,447.5 955.8,447.8 956.3,448.2 956.9,448.5 957.6,448.8 958.3,449.1 959.2,449.5 960.0,449.8 961.0,450.1 962.0,450.3 963.0,450.6 964.1,450.9 965.3,451.1 966.5,451.4 967.7,451.6 969.0,451.8 970.3,452.0 971.7,452.2 973.1,452.3 974.5,452.5 975.9,452.6 977.4,452.7 978.9,452.8 980.4,452.9 981.8,452.9 983.3,453.0 984.8,453.0 986.3,453.0 987.8,453.0 989.2,452.9 990.7,452.9 992.1,452.8 993.4,452.7 994.8,452.6 996.1,452.5 997.4,452.3 998.6,452.1 999.8,452.0 1001.0,451.8 1002.0,451.6 1003.1,451.3 1004.0,451.1 1005.0,450.9 1005.8,450.6 1006.6,450.3 1007.3,450.0 1008.0,449.7 1008.5,449.4 1009.0,449.1 1009.5,448.8" fill="#a03835"/><polygon points="1078.9,688.2 1078.9,687.7 1094.7,364.5 1094.8,364.2 1095.0,363.9 1095.2,363.6 1095.5,363.4 1095.9,363.1 1096.4,362.8 1096.9,362.6 1097.5,362.3 1098.2,362.0 1099.0,361.8 1099.8,361.6 1100.7,361.4 1101.6,361.2 1102.6,361.0 1103.7,360.8 1104.8,360.6 1106.0,360.5 1107.2,360.3 1108.4,360.2 1109.7,360.1 1111.1,360.0 1112.5,359.9 1113.8,359.9 1115.3,359.8 1116.7,359.8 1118.2,359.8 1119.7,359.8 1121.2,359.8 1122.7,359.8 1124.2,359.9 1125.7,359.9 1127.2,360.0 1128.7,360.1 1130.2,360.2 1131.7,360.3 1133.1,360.5 1134.6,360.6 1136.0,360.8 1137.3,360.9 1138.6,361.1 1139.9,361.3 1141.2,361.6 1142.4,361.8 1143.5,362.0 1144.6,362.3 1145.7,362.5 1146.7,362.8 1147.6,363.1 1148.4,363.3 1149.2,363.6 1150.0,363.9 1150.6,364.2 1151.2,364.5 1151.7,364.8 1152.1,365.1 1152.5,365.4 1152.8,365.8 1153.0,366.1 1153.1,366.4 1153.1,366.7 1135.1,691.1 1135.1,691.6 1135.0,692.1 1134.8,692.5 1134.5,693.0 1134.1,693.4 1133.7,693.9 1133.2,694.3 1132.6,694.7 1131.9,695.1 1131.2,695.5 1130.4,695.9 1129.6,696.2 1128.7,696.5 1127.7,696.9 1126.7,697.1 1125.6,697.4 1124.4,697.7 1123.2,697.9 1122.0,698.1 1120.7,698.3 1119.4,698.4 1118.0,698.5 1116.7,698.6 1115.2,698.7 1113.8,698.8 1112.3,698.8 1110.9,698.8 1109.4,698.8 1107.9,698.7 1106.4,698.6 1105.0,698.5 1103.5,698.4 1102.0,698.3 1100.5,698.1 1099.1,697.9 1097.7,697.7 1096.3,697.4 1095.0,697.1 1093.6,696.9 1092.3,696.5 1091.1,696.2 1089.9,695.9 1088.7,695.5 1087.7,695.1 1086.6,694.7 1085.6,694.3 1084.7,693.9 1083.8,693.4 1083.0,693.0 1082.3,692.5 1081.6,692.1 1081.0,691.6 1080.5,691.1 1080.0,690.6 1079.7,690.1 1079.4,689.7 1079.2,689.2 1079.0,688.7" fill="url(#g7)"/><polygon points="1152.7,367.6 1152.9,367.3 1153.1,367.0 1153.1,366.7 1153.1,366.4 1152.9,366.1 1152.8,365.7 1152.5,365.4 1152.1,365.1 1151.7,364.8 1151.2,364.5 1150.6,364.2 1149.9,363.9 1149.2,363.6 1148.4,363.3 1147.6,363.1 1146.6,362.8 1145.7,362.5 1144.6,362.3 1143.5,362.0 1142.4,361.8 1141.2,361.6 1139.9,361.3 1138.6,361.1 1137.3,361.0 1136.0,360.8 1134.6,360.6 1133.1,360.5 1131.7,360.3 1130.2,360.2 1128.7,360.1 1127.2,360.0 1125.7,359.9 1124.2,359.9 1122.7,359.8 1121.2,359.8 1119.7,359.8 1118.2,359.8 1116.7,359.8 1115.3,359.8 1113.9,359.9 1112.4,359.9 1111.1,360.0 1109.7,360.1 1108.4,360.2 1107.2,360.3 1106.0,360.5 1104.8,360.6 1103.7,360.8 1102.6,361.0 1101.6,361.2 1100.7,361.4 1099.8,361.6 1098.9,361.8 1098.2,362.0 1097.5,362.3 1096.9,362.5 1096.4,362.8 1095.9,363.1 1095.5,363.4 1095.2,363.7 1095.0,363.9 1094.8,364.2 1094.7,364.5 1094.7,364.8 1094.8,365.2 1095.0,365.5 1095.2,365.8 1095.5,366.1 1095.9,366.4 1096.4,366.7 1097.0,367.0 1097.6,367.3 1098.3,367.6 1099.1,367.9 1099.9,368.2 1100.8,368.5 1101.8,368.7 1102.8,369.0 1103.9,369.2 1105.1,369.5 1106.3,369.7 1107.5,369.9 1108.8,370.1 1110.1,370.3 1111.5,370.5 1112.9,370.7 1114.4,370.9 1115.9,371.0 1117.4,371.1 1118.9,371.2 1120.4,371.3 1121.9,371.4 1123.5,371.5 1125.0,371.5 1126.6,371.6 1128.1,371.6 1129.6,371.6 1131.1,371.6 1132.6,371.5 1134.1,371.5 1135.5,371.4 1136.9,371.3 1138.3,371.2 1139.6,371.1 1140.9,371.0 1142.1,370.8 1143.3,370.7 1144.4,370.5 1145.5,370.3 1146.5,370.1 1147.4,369.9 1148.3,369.7 1149.1,369.5 1149.9,369.2 1150.5,369.0 1151.1,368.7 1151.7,368.4 1152.1,368.1 1152.5,367.9" fill="#a03835"/><polygon points="177.9,620.6 178.0,620.2 178.1,619.8 178.3,619.4 178.6,618.9 178.9,618.5 179.4,618.1 179.8,617.7 180.4,617.3 181.0,616.9 181.7,616.5 182.4,616.1 183.2,615.8 184.1,615.4 185.0,615.0 185.9,614.7 186.9,614.4 188.0,614.0 189.1,613.8 190.2,613.5 191.4,613.2 192.6,612.9 193.8,612.7 195.1,612.5 196.4,612.3 197.7,612.1 199.0,611.9 200.4,611.8 201.7,611.6 203.1,611.5 204.4,611.5 205.8,611.4 207.1,611.4 208.5,611.3 209.8,611.3 211.1,611.4 212.4,611.4 213.7,611.5 215.0,611.5 216.2,611.6 217.4,611.8 218.5,611.9 219.7,612.1 220.7,612.3 221.8,612.5 222.7,612.7 223.7,612.9 224.6,613.2 225.4,613.5 226.2,613.7 226.9,614.0 227.5,614.4 228.1,614.7 228.6,615.0 229.1,615.4 229.5,615.8 229.8,616.1 230.0,616.5 230.2,616.9 230.3,617.3 230.3,617.7 230.9,628.6 230.8,629.0 230.7,629.5 230.6,629.9 230.3,630.3 230.0,630.7 229.6,631.1 229.2,631.6 228.6,632.0 228.0,632.4 227.4,632.8 226.7,633.2 225.9,633.6 225.1,633.9 224.2,634.3 223.2,634.6 222.2,635.0 221.2,635.3 220.1,635.6 218.9,635.9 217.7,636.2 216.5,636.5 215.3,636.8 214.0,637.0 212.7,637.2 211.4,637.4 210.0,637.6 208.7,637.7 207.3,637.9 205.9,638.0 204.5,638.0 203.1,638.1 201.7,638.2 200.4,638.2 199.0,638.2 197.7,638.2 196.3,638.1 195.1,638.0 193.8,638.0 192.5,637.9 191.3,637.7 190.2,637.6 189.0,637.4 187.9,637.2 186.9,637.0 185.9,636.8 185.0,636.5 184.1,636.2 183.3,636.0 182.5,635.6 181.8,635.3 181.2,635.0 180.6,634.7 180.1,634.3 179.7,633.9 179.3,633.6 179.0,633.2 178.8,632.8 178.6,632.4 178.5,632.0 177.9,621.0" fill="url(#g8)"/><polygon points="226.8,621.8 227.5,621.4 228.1,621.0 228.6,620.6 229.1,620.2 229.5,619.8 229.8,619.3 230.0,618.9 230.2,618.5 230.3,618.1 230.4,617.7 230.3,617.3 230.2,616.9 230.0,616.5 229.8,616.1 229.5,615.8 229.1,615.4 228.6,615.0 228.1,614.7 227.5,614.4 226.9,614.0 226.2,613.7 225.4,613.5 224.6,613.2 223.7,612.9 222.7,612.7 221.8,612.5 220.7,612.3 219.7,612.1 218.5,611.9 217.4,611.8 216.2,611.6 215.0,611.5 213.7,611.5 212.4,611.4 211.1,611.3 209.8,611.3 208.5,611.3 207.1,611.3 205.8,611.4 204.4,611.5 203.1,611.5 201.7,611.6 200.4,611.8 199.0,611.9 197.7,612.1 196.4,612.3 195.1,612.5 193.8,612.7 192.6,612.9 191.4,613.2 190.2,613.5 189.1,613.7 188.0,614.0 186.9,614.4 185.9,614.7 185.0,615.0 184.1,615.4 183.2,615.8 182.4,616.1 181.7,616.5 181.0,616.9 180.4,617.3 179.8,617.7 179.4,618.1 179.0,618.5 178.6,618.9 178.3,619.4 178.1,619.8 178.0,620.2 177.9,620.6 177.9,621.0 178.0,621.4 178.2,621.8 178.4,622.2 178.7,622.6 179.1,622.9 179.5,623.3 180.0,623.6 180.6,624.0 181.2,624.3 181.9,624.6 182.7,624.9 183.5,625.2 184.4,625.5 185.3,625.7 186.3,625.9 187.3,626.1 188.4,626.3 189.6,626.5 190.7,626.7 191.9,626.8 193.2,626.9 194.5,627.0 195.8,627.1 197.1,627.1 198.4,627.1 199.8,627.1 201.2,627.1 202.6,627.1 203.9,627.0 205.3,626.9 206.7,626.8 208.1,626.7 209.4,626.5 210.8,626.3 212.1,626.1 213.4,625.9 214.7,625.7 216.0,625.5 217.2,625.2 218.4,624.9 219.5,624.6 220.6,624.3 221.7,624.0 222.7,623.6 223.6,623.3 224.5,622.9 225.3,622.6 226.1,622.2" fill="#37649f"/><polygon points="289.7,622.6 289.8,622.2 289.9,621.8 290.1,621.4 290.4,621.0 290.8,620.5 291.2,620.1 291.7,619.7 292.3,619.3 292.9,618.9 293.6,618.5 294.4,618.1 295.2,617.8 296.1,617.4 297.0,617.0 298.0,616.7 299.0,616.4 300.1,616.1 301.2,615.8 302.3,615.5 303.5,615.2 304.7,615.0 306.0,614.8 307.3,614.6 308.6,614.4 309.9,614.2 311.2,614.1 312.6,613.9 314.0,613.8 315.4,613.7 316.7,613.7 318.1,613.6 319.5,613.6 320.8,613.6 322.2,613.6 323.5,613.7 324.8,613.7 326.1,613.8 327.4,613.9 328.6,614.1 329.8,614.2 330.9,614.4 332.1,614.6 333.1,614.8 334.2,615.0 335.2,615.2 336.1,615.5 337.0,615.8 337.8,616.1 338.6,616.4 339.3,616.7 339.9,617.0 340.5,617.4 341.0,617.8 341.5,618.1 341.9,618.5 342.2,618.9 342.4,619.3 342.6,619.7 342.7,620.1 342.7,620.5 343.5,642.3 343.4,642.7 343.3,643.2 343.1,643.6 342.9,644.0 342.5,644.5 342.1,644.9 341.6,645.3 341.1,645.8 340.5,646.2 339.8,646.6 339.1,647.0 338.3,647.4 337.4,647.7 336.5,648.1 335.6,648.5 334.5,648.8 333.5,649.1 332.4,649.4 331.2,649.7 330.0,650.0 328.8,650.3 327.5,650.5 326.2,650.7 324.9,650.9 323.5,651.1 322.2,651.3 320.8,651.4 319.4,651.5 318.0,651.6 316.6,651.7 315.2,651.7 313.8,651.8 312.4,651.8 311.1,651.7 309.7,651.7 308.4,651.6 307.1,651.5 305.8,651.4 304.5,651.3 303.3,651.1 302.1,650.9 301.0,650.7 299.9,650.5 298.9,650.3 297.9,650.0 297.0,649.7 296.1,649.4 295.3,649.1 294.5,648.8 293.8,648.5 293.2,648.1 292.6,647.7 292.1,647.4 291.7,647.0 291.3,646.6 291.0,646.2 290.8,645.8 290.7,645.3 290.6,644.9 289.7,623.1" fill="url(#g9)"/><polygon points="339.7,624.3 340.3,623.9 340.9,623.5 341.3,623.1 341.7,622.6 342.1,622.2 342.3,621.8 342.5,621.4 342.7,621.0 342.7,620.5 342.7,620.1 342.6,619.7 342.4,619.3 342.2,618.9 341.9,618.5 341.5,618.1 341.0,617.8 340.5,617.4 339.9,617.0 339.3,616.7 338.6,616.4 337.8,616.1 337.0,615.8 336.1,615.5 335.2,615.2 334.2,615.0 333.1,614.8 332.1,614.6 330.9,614.4 329.8,614.2 328.6,614.1 327.3,613.9 326.1,613.8 324.8,613.7 323.5,613.7 322.2,613.6 320.8,613.6 319.5,613.6 318.1,613.6 316.7,613.7 315.3,613.7 314.0,613.8 312.6,613.9 311.3,614.1 309.9,614.2 308.6,614.4 307.3,614.6 306.0,614.8 304.7,615.0 303.5,615.2 302.3,615.5 301.2,615.8 300.1,616.1 299.0,616.4 298.0,616.7 297.0,617.0 296.1,617.4 295.2,617.8 294.4,618.1 293.6,618.5 292.9,618.9 292.3,619.3 291.7,619.7 291.2,620.1 290.8,620.5 290.4,621.0 290.1,621.4 289.9,621.8 289.8,622.2 289.7,622.6 289.7,623.1 289.8,623.5 289.9,623.9 290.1,624.3 290.4,624.7 290.8,625.1 291.2,625.5 291.7,625.8 292.3,626.2 292.9,626.5 293.6,626.9 294.4,627.2 295.2,627.5 296.1,627.8 297.0,628.0 298.0,628.3 299.0,628.5 300.1,628.8 301.3,628.9 302.4,629.1 303.7,629.3 304.9,629.4 306.2,629.5 307.5,629.6 308.8,629.7 310.2,629.7 311.6,629.7 313.0,629.7 314.3,629.7 315.7,629.7 317.1,629.6 318.5,629.5 319.9,629.4 321.3,629.3 322.7,629.1 324.0,628.9 325.4,628.7 326.7,628.5 327.9,628.3 329.2,628.0 330.4,627.8 331.5,627.5 332.7,627.2 333.7,626.9 334.8,626.5 335.7,626.2 336.6,625.8 337.5,625.5 338.3,625.1 339.0,624.7" fill="#37649f"/><polygon points="405.4,616.8 405.4,616.4 405.5,615.9 405.7,615.5 405.9,615.1 406.2,614.6 406.6,614.2 407.0,613.8 407.5,613.4 408.1,613.0 408.8,612.6 409.5,612.2 410.2,611.8 411.1,611.5 412.0,611.1 412.9,610.8 413.9,610.5 414.9,610.1 416.0,609.8 417.2,609.6 418.4,609.3 419.6,609.0 420.8,608.8 422.1,608.6 423.4,608.4 424.7,608.2 426.1,608.1 427.4,608.0 428.8,607.9 430.2,607.8 431.6,607.7 433.0,607.7 434.4,607.6 435.8,607.6 437.1,607.7 438.5,607.7 439.8,607.8 441.2,607.9 442.5,608.0 443.7,608.1 445.0,608.2 446.2,608.4 447.4,608.6 448.5,608.8 449.6,609.0 450.6,609.3 451.6,609.5 452.6,609.8 453.5,610.1 454.3,610.5 455.1,610.8 455.8,611.1 456.4,611.5 457.0,611.8 457.5,612.2 458.0,612.6 458.3,613.0 458.6,613.4 458.9,613.8 459.1,614.2 459.1,614.6 459.1,615.1 460.1,656.0 460.1,656.5 460.0,656.9 459.9,657.4 459.7,657.8 459.4,658.3 459.1,658.7 458.7,659.2 458.2,659.6 457.6,660.0 457.0,660.4 456.3,660.9 455.6,661.3 454.7,661.6 453.9,662.0 452.9,662.4 451.9,662.8 450.9,663.1 449.8,663.4 448.7,663.7 447.5,664.0 446.3,664.3 445.0,664.5 443.7,664.8 442.4,665.0 441.1,665.1 439.7,665.3 438.3,665.5 436.9,665.6 435.5,665.7 434.1,665.7 432.7,665.8 431.3,665.8 429.9,665.8 428.5,665.8 427.1,665.7 425.7,665.7 424.4,665.6 423.1,665.5 421.8,665.3 420.5,665.1 419.3,665.0 418.1,664.8 417.0,664.5 415.9,664.3 414.8,664.0 413.8,663.7 412.9,663.4 412.0,663.1 411.2,662.8 410.4,662.4 409.7,662.0 409.1,661.7 408.5,661.3 408.1,660.9 407.6,660.5 407.3,660.0 407.0,659.6 406.8,659.2 406.6,658.7 406.6,658.3" fill="url(#g10)"/><polygon points="456.7,618.4 457.2,618.0 457.7,617.6 458.1,617.2 458.5,616.8 458.8,616.4 459.0,615.9 459.1,615.5 459.2,615.1 459.1,614.6 459.0,614.2 458.9,613.8 458.6,613.4 458.3,613.0 458.0,612.6 457.5,612.2 457.0,611.8 456.4,611.5 455.8,611.1 455.1,610.8 454.3,610.4 453.5,610.1 452.6,609.8 451.6,609.6 450.6,609.3 449.6,609.0 448.5,608.8 447.4,608.6 446.2,608.4 445.0,608.2 443.7,608.1 442.5,608.0 441.2,607.9 439.8,607.8 438.5,607.7 437.1,607.7 435.7,607.6 434.4,607.6 433.0,607.7 431.6,607.7 430.2,607.8 428.8,607.9 427.4,608.0 426.1,608.1 424.7,608.2 423.4,608.4 422.1,608.6 420.8,608.8 419.6,609.0 418.4,609.3 417.2,609.6 416.0,609.8 415.0,610.1 413.9,610.5 412.9,610.8 412.0,611.1 411.1,611.5 410.2,611.8 409.5,612.2 408.8,612.6 408.1,613.0 407.5,613.4 407.0,613.8 406.6,614.2 406.2,614.7 405.9,615.1 405.7,615.5 405.5,615.9 405.4,616.4 405.4,616.8 405.5,617.2 405.6,617.6 405.8,618.0 406.1,618.5 406.4,618.9 406.9,619.3 407.4,619.6 407.9,620.0 408.6,620.4 409.3,620.7 410.0,621.1 410.8,621.4 411.7,621.7 412.7,622.0 413.7,622.3 414.7,622.5 415.8,622.7 417.0,623.0 418.1,623.2 419.4,623.3 420.6,623.5 421.9,623.6 423.3,623.7 424.6,623.8 426.0,623.9 427.4,623.9 428.8,624.0 430.2,624.0 431.6,623.9 433.0,623.9 434.5,623.8 435.9,623.7 437.3,623.6 438.7,623.5 440.0,623.3 441.4,623.2 442.7,623.0 444.0,622.7 445.3,622.5 446.5,622.2 447.7,622.0 448.8,621.7 449.9,621.4 451.0,621.1 452.0,620.7 452.9,620.4 453.8,620.0 454.6,619.6 455.3,619.2 456.0,618.9" fill="#37649f"/><polygon points="651.0,642.1 651.0,641.6 651.1,641.1 651.3,640.7 651.5,640.2 651.9,639.8 652.3,639.4 652.7,638.9 653.3,638.5 653.9,638.1 654.6,637.7 655.3,637.3 656.1,636.9 657.0,636.5 657.9,636.2 658.9,635.9 659.9,635.5 661.0,635.2 662.1,634.9 663.3,634.7 664.5,634.4 665.8,634.2 667.0,634.0 668.4,633.8 669.7,633.7 671.1,633.5 672.5,633.4 673.9,633.3 675.3,633.2 676.7,633.2 678.2,633.2 679.6,633.2 681.0,633.2 682.5,633.2 683.9,633.3 685.3,633.4 686.7,633.5 688.0,633.7 689.4,633.8 690.7,634.0 692.0,634.2 693.2,634.4 694.4,634.7 695.6,634.9 696.7,635.2 697.8,635.5 698.8,635.9 699.8,636.2 700.7,636.5 701.5,636.9 702.3,637.3 703.0,637.7 703.7,638.1 704.3,638.5 704.8,638.9 705.3,639.4 705.7,639.8 706.0,640.2 706.2,640.7 706.4,641.1 706.5,641.6 706.5,642.1 706.2,686.4 706.1,686.9 706.0,687.4 705.8,687.9 705.5,688.3 705.1,688.8 704.7,689.3 704.1,689.7 703.6,690.2 702.9,690.6 702.2,691.0 701.4,691.4 700.6,691.8 699.6,692.2 698.7,692.6 697.6,692.9 696.6,693.2 695.4,693.5 694.3,693.8 693.0,694.1 691.8,694.3 690.5,694.6 689.1,694.8 687.8,694.9 686.4,695.1 685.0,695.2 683.5,695.3 682.1,695.4 680.6,695.5 679.2,695.5 677.7,695.5 676.3,695.5 674.8,695.4 673.4,695.3 672.0,695.2 670.5,695.1 669.2,694.9 667.8,694.8 666.5,694.6 665.2,694.3 663.9,694.1 662.7,693.8 661.5,693.5 660.4,693.2 659.4,692.9 658.4,692.6 657.4,692.2 656.5,691.8 655.6,691.4 654.9,691.0 654.2,690.6 653.5,690.2 653.0,689.7 652.5,689.3 652.0,688.8 651.7,688.3 651.4,687.9 651.2,687.4 651.1,686.9 651.0,686.4" fill="url(#g11)"/><polygon points="704.9,644.8 705.4,644.3 705.7,643.9 706.0,643.4 706.2,643.0 706.4,642.5 706.5,642.1 706.4,641.6 706.4,641.1 706.2,640.7 706.0,640.2 705.7,639.8 705.3,639.3 704.8,638.9 704.3,638.5 703.7,638.1 703.0,637.7 702.3,637.3 701.5,636.9 700.7,636.5 699.8,636.2 698.8,635.8 697.8,635.5 696.7,635.2 695.6,634.9 694.4,634.7 693.2,634.4 692.0,634.2 690.7,634.0 689.4,633.8 688.0,633.7 686.7,633.5 685.3,633.4 683.9,633.3 682.5,633.2 681.0,633.2 679.6,633.2 678.2,633.2 676.7,633.2 675.3,633.2 673.9,633.3 672.5,633.4 671.1,633.5 669.7,633.7 668.4,633.8 667.0,634.0 665.8,634.2 664.5,634.4 663.3,634.7 662.1,634.9 661.0,635.2 659.9,635.5 658.9,635.8 657.9,636.2 657.0,636.5 656.1,636.9 655.3,637.3 654.6,637.7 653.9,638.1 653.3,638.5 652.7,638.9 652.3,639.4 651.9,639.8 651.6,640.2 651.3,640.7 651.1,641.1 651.0,641.6 651.0,642.1 651.1,642.5 651.2,643.0 651.4,643.4 651.7,643.9 652.0,644.3 652.4,644.8 652.9,645.2 653.5,645.6 654.2,646.0 654.9,646.4 655.7,646.8 656.5,647.2 657.4,647.6 658.4,647.9 659.4,648.2 660.5,648.5 661.6,648.8 662.8,649.1 664.0,649.4 665.2,649.6 666.5,649.8 667.9,650.0 669.2,650.2 670.6,650.3 672.0,650.4 673.5,650.5 674.9,650.6 676.4,650.7 677.8,650.7 679.3,650.7 680.8,650.7 682.2,650.6 683.7,650.5 685.1,650.4 686.5,650.3 687.9,650.2 689.3,650.0 690.7,649.8 692.0,649.6 693.2,649.4 694.5,649.1 695.6,648.8 696.8,648.5 697.9,648.2 698.9,647.9 699.9,647.6 700.8,647.2 701.6,646.8 702.4,646.4 703.2,646.0 703.8,645.6 704.4,645.2" fill="#37649f"/><polygon points="779.9,701.2 781.0,629.0 781.0,628.5 781.1,628.1 781.3,627.6 781.5,627.2 781.9,626.7 782.3,626.3 782.8,625.9 783.3,625.5 783.9,625.0 784.6,624.6 785.4,624.3 786.2,623.9 787.1,623.5 788.0,623.2 789.0,622.9 790.1,622.6 791.2,622.3 792.4,622.0 793.5,621.8 794.8,621.6 796.1,621.4 797.4,621.2 798.7,621.0 800.1,620.9 801.5,620.8 802.9,620.7 804.4,620.6 805.8,620.5 807.3,620.5 808.8,620.5 810.2,620.5 811.7,620.6 813.2,620.7 814.6,620.8 816.0,620.9 817.5,621.0 818.9,621.2 820.2,621.4 821.6,621.6 822.9,621.8 824.2,622.0 825.4,622.3 826.6,622.6 827.7,622.9 828.8,623.2 829.9,623.5 830.9,623.9 831.8,624.3 832.7,624.6 833.5,625.0 834.2,625.5 834.9,625.9 835.5,626.3 836.0,626.7 836.5,627.2 836.9,627.6 837.2,628.1 837.5,628.5 837.6,629.0 837.7,629.5 837.7,629.9 836.2,702.2 836.1,702.7 836.0,703.2 835.8,703.7 835.5,704.2 835.1,704.7 834.6,705.2 834.1,705.6 833.5,706.1 832.9,706.5 832.1,706.9 831.3,707.3 830.4,707.7 829.5,708.1 828.5,708.5 827.5,708.8 826.4,709.1 825.2,709.4 824.0,709.7 822.8,710.0 821.5,710.2 820.1,710.4 818.8,710.6 817.4,710.7 816.0,710.9 814.5,711.0 813.1,711.1 811.6,711.1 810.1,711.1 808.6,711.1 807.1,711.1 805.6,711.1 804.2,711.0 802.7,710.9 801.2,710.7 799.8,710.6 798.4,710.4 797.0,710.2 795.7,710.0 794.4,709.7 793.1,709.4 791.8,709.1 790.6,708.8 789.5,708.5 788.4,708.1 787.4,707.7 786.4,707.3 785.5,706.9 784.6,706.5 783.9,706.1 783.1,705.6 782.5,705.2 781.9,704.7 781.4,704.2 781.0,703.7 780.6,703.2 780.3,702.7 780.1,702.2 780.0,701.7" fill="url(#g12)"/><polygon points="836.6,632.2 837.0,631.7 837.3,631.3 837.5,630.8 837.6,630.4 837.7,629.9 837.7,629.5 837.6,629.0 837.5,628.5 837.2,628.1 836.9,627.6 836.5,627.2 836.0,626.7 835.5,626.3 834.9,625.9 834.2,625.5 833.5,625.0 832.7,624.7 831.8,624.3 830.9,623.9 829.9,623.5 828.8,623.2 827.7,622.9 826.6,622.6 825.4,622.3 824.2,622.0 822.9,621.8 821.6,621.6 820.2,621.4 818.9,621.2 817.5,621.0 816.0,620.9 814.6,620.8 813.2,620.7 811.7,620.6 810.2,620.5 808.8,620.5 807.3,620.5 805.8,620.5 804.4,620.6 802.9,620.7 801.5,620.8 800.1,620.9 798.7,621.0 797.4,621.2 796.1,621.4 794.8,621.6 793.6,621.8 792.4,622.0 791.2,622.3 790.1,622.6 789.0,622.9 788.0,623.2 787.1,623.6 786.2,623.9 785.4,624.3 784.6,624.7 783.9,625.0 783.3,625.5 782.8,625.9 782.3,626.3 781.9,626.7 781.5,627.2 781.3,627.6 781.1,628.1 781.0,628.5 781.0,629.0 781.0,629.5 781.2,629.9 781.4,630.4 781.7,630.8 782.0,631.3 782.5,631.7 783.0,632.2 783.5,632.6 784.2,633.0 784.9,633.5 785.7,633.9 786.6,634.2 787.5,634.6 788.5,635.0 789.5,635.3 790.6,635.7 791.8,636.0 793.0,636.3 794.2,636.6 795.5,636.8 796.8,637.0 798.2,637.3 799.6,637.4 801.0,637.6 802.5,637.8 803.9,637.9 805.4,638.0 806.9,638.1 808.4,638.1 809.9,638.1 811.4,638.1 812.9,638.1 814.4,638.1 815.9,638.0 817.3,637.9 818.8,637.8 820.2,637.6 821.5,637.4 822.9,637.3 824.2,637.0 825.4,636.8 826.6,636.6 827.8,636.3 828.9,636.0 830.0,635.7 831.0,635.3 831.9,635.0 832.8,634.6 833.6,634.2 834.3,633.9 835.0,633.4 835.6,633.0 836.1,632.6" fill="#37649f"/><polygon points="913.6,716.6 915.6,651.7 915.6,651.2 915.7,650.7 915.9,650.3 916.1,649.8 916.5,649.3 916.9,648.9 917.4,648.5 918.0,648.0 918.6,647.6 919.3,647.2 920.1,646.8 920.9,646.5 921.8,646.1 922.8,645.8 923.8,645.5 924.9,645.1 926.0,644.9 927.2,644.6 928.4,644.4 929.7,644.2 931.0,644.0 932.3,643.8 933.7,643.6 935.1,643.5 936.5,643.4 938.0,643.4 939.5,643.3 940.9,643.3 942.4,643.3 943.9,643.3 945.4,643.4 946.9,643.4 948.4,643.5 949.9,643.6 951.4,643.8 952.8,644.0 954.2,644.2 955.7,644.4 957.0,644.6 958.4,644.9 959.7,645.1 960.9,645.5 962.2,645.8 963.3,646.1 964.5,646.5 965.5,646.8 966.5,647.2 967.5,647.6 968.4,648.0 969.2,648.5 970.0,648.9 970.7,649.3 971.3,649.8 971.9,650.3 972.3,650.7 972.7,651.2 973.1,651.7 973.3,652.2 973.5,652.6 973.6,653.1 973.6,653.6 971.2,718.7 971.1,719.2 971.0,719.7 970.8,720.2 970.5,720.7 970.1,721.2 969.6,721.7 969.1,722.1 968.5,722.6 967.8,723.0 967.0,723.5 966.2,723.9 965.3,724.3 964.4,724.6 963.4,725.0 962.3,725.3 961.1,725.6 960.0,725.9 958.7,726.2 957.5,726.4 956.1,726.6 954.8,726.8 953.4,727.0 952.0,727.1 950.5,727.2 949.0,727.3 947.5,727.4 946.0,727.4 944.5,727.4 943.0,727.4 941.5,727.3 940.0,727.2 938.4,727.1 936.9,727.0 935.5,726.8 934.0,726.6 932.5,726.4 931.1,726.2 929.7,725.9 928.4,725.6 927.1,725.3 925.8,725.0 924.6,724.6 923.4,724.3 922.3,723.9 921.3,723.5 920.3,723.0 919.3,722.6 918.5,722.1 917.6,721.7 916.9,721.2 916.2,720.7 915.7,720.2 915.1,719.7 914.7,719.2 914.3,718.7 914.0,718.2 913.8,717.6 913.7,717.1" fill="url(#g13)"/><polygon points="972.8,655.5 973.1,655.0 973.4,654.6 973.5,654.1 973.6,653.6 973.6,653.1 973.5,652.6 973.3,652.2 973.1,651.7 972.7,651.2 972.3,650.7 971.9,650.3 971.3,649.8 970.7,649.3 970.0,648.9 969.2,648.5 968.4,648.0 967.5,647.6 966.5,647.2 965.5,646.8 964.5,646.5 963.3,646.1 962.2,645.8 960.9,645.4 959.7,645.1 958.4,644.9 957.0,644.6 955.7,644.4 954.3,644.2 952.8,644.0 951.4,643.8 949.9,643.7 948.4,643.5 946.9,643.4 945.4,643.4 943.9,643.3 942.4,643.3 940.9,643.3 939.5,643.3 938.0,643.4 936.5,643.4 935.1,643.5 933.7,643.7 932.3,643.8 931.0,644.0 929.7,644.2 928.4,644.4 927.2,644.6 926.0,644.9 924.9,645.2 923.8,645.5 922.8,645.8 921.8,646.1 920.9,646.5 920.1,646.8 919.3,647.2 918.6,647.6 918.0,648.0 917.4,648.5 916.9,648.9 916.5,649.3 916.2,649.8 915.9,650.3 915.7,650.7 915.6,651.2 915.6,651.7 915.6,652.2 915.8,652.7 916.0,653.1 916.3,653.6 916.7,654.1 917.1,654.6 917.6,655.0 918.2,655.5 918.9,656.0 919.6,656.4 920.4,656.8 921.3,657.3 922.3,657.7 923.3,658.1 924.3,658.4 925.5,658.8 926.6,659.2 927.9,659.5 929.1,659.8 930.5,660.1 931.8,660.4 933.2,660.6 934.6,660.8 936.1,661.0 937.6,661.2 939.1,661.4 940.6,661.5 942.1,661.6 943.7,661.7 945.2,661.7 946.7,661.7 948.3,661.7 949.8,661.7 951.3,661.7 952.8,661.6 954.2,661.5 955.7,661.4 957.1,661.2 958.4,661.0 959.8,660.8 961.0,660.6 962.3,660.4 963.5,660.1 964.6,659.8 965.7,659.5 966.7,659.2 967.7,658.8 968.6,658.4 969.4,658.1 970.1,657.7 970.8,657.3 971.4,656.8 972.0,656.4 972.4,656.0" fill="#37649f"/><polygon points="1052.4,732.6 1052.4,732.0 1056.0,655.2 1056.1,654.7 1056.2,654.3 1056.5,653.8 1056.8,653.3 1057.3,652.9 1057.8,652.4 1058.3,652.0 1059.0,651.6 1059.7,651.2 1060.5,650.8 1061.3,650.5 1062.3,650.1 1063.3,649.8 1064.3,649.5 1065.4,649.2 1066.6,648.9 1067.8,648.7 1069.0,648.5 1070.3,648.3 1071.7,648.1 1073.0,648.0 1074.5,647.8 1075.9,647.7 1077.4,647.6 1078.9,647.6 1080.4,647.6 1081.9,647.6 1083.4,647.6 1085.0,647.6 1086.5,647.7 1088.1,647.8 1089.6,648.0 1091.1,648.1 1092.6,648.3 1094.1,648.5 1095.6,648.7 1097.0,648.9 1098.5,649.2 1099.8,649.5 1101.2,649.8 1102.5,650.1 1103.8,650.5 1105.0,650.8 1106.1,651.2 1107.2,651.6 1108.3,652.0 1109.3,652.4 1110.2,652.9 1111.0,653.3 1111.8,653.8 1112.5,654.2 1113.2,654.7 1113.8,655.2 1114.3,655.7 1114.7,656.2 1115.0,656.7 1115.3,657.2 1115.5,657.7 1115.6,658.2 1115.6,658.7 1111.5,735.8 1111.4,736.3 1111.3,736.8 1111.1,737.4 1110.7,737.9 1110.3,738.4 1109.9,738.8 1109.3,739.3 1108.7,739.8 1108.0,740.2 1107.2,740.6 1106.4,741.0 1105.5,741.4 1104.5,741.8 1103.5,742.1 1102.4,742.5 1101.2,742.8 1100.0,743.0 1098.8,743.3 1097.4,743.5 1096.1,743.7 1094.7,743.9 1093.3,744.0 1091.8,744.1 1090.3,744.2 1088.8,744.3 1087.3,744.3 1085.7,744.3 1084.2,744.3 1082.6,744.2 1081.0,744.1 1079.5,744.0 1077.9,743.9 1076.4,743.7 1074.8,743.5 1073.3,743.3 1071.9,743.0 1070.4,742.8 1069.0,742.5 1067.6,742.1 1066.2,741.8 1065.0,741.4 1063.7,741.0 1062.5,740.6 1061.3,740.2 1060.3,739.8 1059.2,739.3 1058.3,738.8 1057.4,738.4 1056.5,737.9 1055.8,737.4 1055.1,736.8 1054.5,736.3 1054.0,735.8 1053.5,735.2 1053.1,734.7 1052.8,734.2 1052.6,733.6 1052.5,733.1" fill="url(#g14)"/><polygon points="1115.1,660.1 1115.4,659.6 1115.5,659.2 1115.6,658.7 1115.6,658.2 1115.5,657.7 1115.3,657.2 1115.0,656.7 1114.7,656.2 1114.3,655.7 1113.8,655.2 1113.2,654.7 1112.6,654.3 1111.8,653.8 1111.0,653.3 1110.2,652.9 1109.3,652.4 1108.3,652.0 1107.2,651.6 1106.1,651.2 1105.0,650.8 1103.7,650.5 1102.5,650.1 1101.2,649.8 1099.8,649.5 1098.5,649.2 1097.0,648.9 1095.6,648.7 1094.1,648.5 1092.6,648.3 1091.1,648.1 1089.6,648.0 1088.1,647.8 1086.5,647.7 1085.0,647.7 1083.4,647.6 1081.9,647.6 1080.4,647.6 1078.9,647.6 1077.4,647.7 1075.9,647.7 1074.5,647.8 1073.1,648.0 1071.7,648.1 1070.3,648.3 1069.0,648.5 1067.8,648.7 1066.6,648.9 1065.4,649.2 1064.3,649.5 1063.3,649.8 1062.3,650.1 1061.4,650.5 1060.5,650.8 1059.7,651.2 1059.0,651.6 1058.3,652.0 1057.8,652.4 1057.3,652.9 1056.9,653.3 1056.5,653.8 1056.2,654.3 1056.1,654.7 1056.0,655.2 1055.9,655.7 1056.0,656.2 1056.1,656.7 1056.4,657.2 1056.7,657.7 1057.1,658.2 1057.5,658.7 1058.1,659.2 1058.7,659.6 1059.4,660.1 1060.1,660.6 1061.0,661.0 1061.9,661.5 1062.9,661.9 1063.9,662.3 1065.0,662.7 1066.2,663.1 1067.4,663.5 1068.6,663.9 1070.0,664.2 1071.3,664.5 1072.7,664.8 1074.1,665.1 1075.6,665.4 1077.1,665.6 1078.6,665.8 1080.2,666.0 1081.7,666.1 1083.3,666.3 1084.9,666.4 1086.5,666.4 1088.0,666.5 1089.6,666.5 1091.2,666.5 1092.7,666.5 1094.2,666.4 1095.7,666.4 1097.2,666.3 1098.7,666.1 1100.1,666.0 1101.4,665.8 1102.7,665.6 1104.0,665.4 1105.2,665.1 1106.4,664.8 1107.5,664.5 1108.6,664.2 1109.5,663.9 1110.5,663.5 1111.3,663.1 1112.1,662.7 1112.8,662.3 1113.4,661.9 1114.0,661.5 1114.4,661.0 1114.8,660.6" fill="#37649f"/>
<rect x="1251.7" y="526.8" width="12.6" height="12.6" fill="#4a7ec0" stroke="#335d94" stroke-width="1.2"/><rect x="1251.7" y="564.7" width="12.6" height="12.6" fill="#c84646" stroke="#8f3030" stroke-width="1.2"/>
<g fill="#000" stroke="#000" stroke-width="0.25"><text x="86.83" y="649.7" font-size="17.5" textLength="10.54" lengthAdjust="spacingAndGlyphs">0</text><text x="74.07" y="601.2" font-size="17.5" textLength="20.28" lengthAdjust="spacingAndGlyphs">20</text><text x="71.49" y="552.1" font-size="17.5" textLength="19.80" lengthAdjust="spacingAndGlyphs">40</text><text x="67.95" y="502.5" font-size="17.5" textLength="20.28" lengthAdjust="spacingAndGlyphs">60</text><text x="64.93" y="452.2" font-size="17.5" textLength="20.18" lengthAdjust="spacingAndGlyphs">80</text><text x="50.38" y="401.5" font-size="17.5" textLength="31.65" lengthAdjust="spacingAndGlyphs">100</text><text x="47.20" y="350.1" font-size="17.5" textLength="31.65" lengthAdjust="spacingAndGlyphs">120</text><text x="43.98" y="298.2" font-size="17.5" textLength="31.65" lengthAdjust="spacingAndGlyphs">140</text><text x="178.20" y="609.0" font-size="17.5" textLength="27.91" lengthAdjust="spacingAndGlyphs">4.6</text><text x="248.79" y="566.9" font-size="17.5" textLength="11.24" lengthAdjust="spacingAndGlyphs">8</text><text x="298.34" y="611.9" font-size="17.5" textLength="11.84" lengthAdjust="spacingAndGlyphs">9</text><text x="343.81" y="573.1" font-size="17.5" textLength="38.71" lengthAdjust="spacingAndGlyphs">10.8</text><text x="402.52" y="606.0" font-size="17.5" textLength="38.29" lengthAdjust="spacingAndGlyphs">16.8</text><text x="456.02" y="525.5" font-size="17.5" textLength="38.09" lengthAdjust="spacingAndGlyphs">35.6</text><text x="650.24" y="632.4" font-size="17.5" textLength="37.87" lengthAdjust="spacingAndGlyphs">17.4</text><text x="695.97" y="504.9" font-size="17.5" textLength="35.40" lengthAdjust="spacingAndGlyphs">53.4</text><text x="781.52" y="619.8" font-size="17.5" textLength="38.19" lengthAdjust="spacingAndGlyphs">27.8</text><text x="830.05" y="401.0" font-size="17.5" textLength="20.94" lengthAdjust="spacingAndGlyphs">98</text><text x="917.72" y="642.4" font-size="17.5" textLength="38.30" lengthAdjust="spacingAndGlyphs">24.6</text><text x="952.73" y="435.9" font-size="17.5" textLength="37.46" lengthAdjust="spacingAndGlyphs">88.8</text><text x="1059.63" y="647.2" font-size="17.5" textLength="37.77" lengthAdjust="spacingAndGlyphs">28.6</text><text x="1086.37" y="355.2" font-size="17.5" textLength="47.84" lengthAdjust="spacingAndGlyphs">122.6</text><text x="131.63" y="693.5" font-size="17.5" textLength="80.44" lengthAdjust="spacingAndGlyphs">Jan. 2002</text><text x="244.94" y="707.6" font-size="17.5" textLength="82.44" lengthAdjust="spacingAndGlyphs">Oct. 2004</text><text x="363.08" y="720.8" font-size="17.5" textLength="83.44" lengthAdjust="spacingAndGlyphs">Sep. 2006</text><text x="512.44" y="738.5" font-size="17.5" textLength="31.35" lengthAdjust="spacingAndGlyphs">Full</text><text x="471.72" y="764.3" font-size="17.5" textLength="111.87" lengthAdjust="spacingAndGlyphs">Deregulation</text><text x="614.00" y="752.9" font-size="17.5" textLength="84.20" lengthAdjust="spacingAndGlyphs">Feb. 2007</text><text x="745.49" y="769.0" font-size="17.5" textLength="84.83" lengthAdjust="spacingAndGlyphs">Feb. 2008</text><text x="884.01" y="785.9" font-size="17.5" textLength="84.00" lengthAdjust="spacingAndGlyphs">Feb. 2009</text><text x="1026.05" y="803.8" font-size="17.5" textLength="87.01" lengthAdjust="spacingAndGlyphs">Nov. 2009</text><text x="1269.27" y="538.6" font-size="17.5" textLength="80.78" lengthAdjust="spacingAndGlyphs">Providers</text><text x="1269.35" y="576.8" font-size="17.5" textLength="45.21" lengthAdjust="spacingAndGlyphs">Plans</text></g>
</svg>
</body></html>
